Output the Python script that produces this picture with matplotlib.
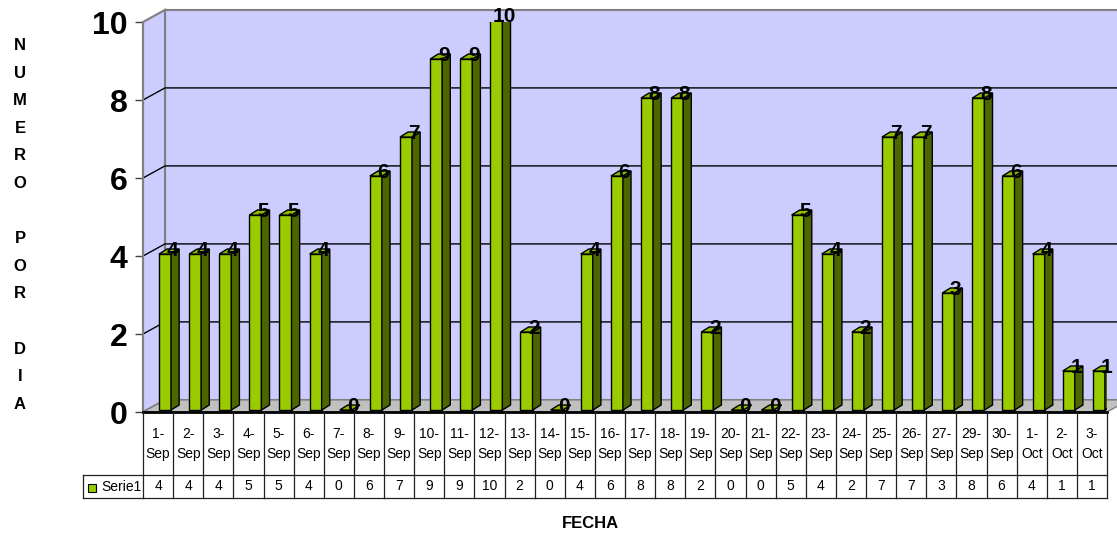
import matplotlib
matplotlib.use("Agg")
import matplotlib.pyplot as plt
from matplotlib.patches import Polygon, Rectangle

plt.rcParams['font.family'] = ['Liberation Sans', 'DejaVu Sans']

# data
fechas = ['1-Sep', '2-Sep', '3-Sep', '4-Sep', '5-Sep', '6-Sep', '7-Sep', '8-Sep',
          '9-Sep', '10-Sep', '11-Sep', '12-Sep', '13-Sep', '14-Sep', '15-Sep', '16-Sep',
          '17-Sep', '18-Sep', '19-Sep', '20-Sep', '21-Sep', '22-Sep', '23-Sep', '24-Sep',
          '25-Sep', '26-Sep', '27-Sep', '29-Sep', '30-Sep', '1-Oct', '2-Oct', '3-Oct']
serie1 = [4, 4, 4, 5, 5, 4, 0, 6, 7, 9, 9, 10, 2, 0, 4, 6,
          8, 8, 2, 0, 0, 5, 4, 2, 7, 7, 3, 8, 6, 4, 1, 1]
yticks = [0, 2, 4, 6, 8, 10]

W, H = 1117, 535
n = len(fechas)


def px_rect(l, t, r, b):
    return [l / W, 1 - b / H, (r - l) / W, (b - t) / H]


fig = plt.figure(figsize=(W / 100, H / 100), dpi=100)
ax = fig.add_axes(px_rect(143, 22, 1107, 412))
ax.set_xlim(-0.5, n - 0.5)
ax.set_ylim(0, 10)
ax.patch.set_visible(False)

# 3d depth of the walls (in data units)
dx, dy = 0.73, 0.31
x0w, x1w = -0.5, n - 0.5

back = Polygon([(x0w + dx, dy), (x1w + dx, dy), (x1w + dx, 10 + dy), (x0w + dx, 10 + dy)],
               fc='#CCCCFF', ec='#808080', lw=1.5, clip_on=False, zorder=0)
left = Polygon([(x0w, 0), (x0w + dx, dy), (x0w + dx, 10 + dy), (x0w, 10)],
               fc='#CCCCFF', ec='#808080', lw=1.5, clip_on=False, zorder=0)
floor = Polygon([(x0w, 0), (x1w, 0), (x1w + dx, dy), (x0w + dx, dy)],
                fc='#C0C0C0', ec='#808080', lw=1, clip_on=False, zorder=0)
for p in (back, left, floor):
    ax.add_patch(p)

for y in yticks[1:-1]:
    ax.plot([x0w, x0w + dx, x1w + dx], [y, y + dy, y + dy], color='black', lw=1,
            clip_on=False, zorder=1)

# bars
w = 0.40
bdx, bdy = 0.27, 0.13
base = 0.05
for i, v in enumerate(serie1):
    xa = i + 0.03
    y1 = base + v
    ax.add_patch(Rectangle((xa, base), w, v, fc='#99CC00', ec='black', lw=1, zorder=3))
    ax.add_patch(Polygon([(xa + w, base), (xa + w + bdx, base + bdy), (xa + w + bdx, y1 + bdy), (xa + w, y1)],
                         fc='#4D6600', ec='black', lw=1, zorder=3))
    ax.add_patch(Polygon([(xa, y1), (xa + w, y1), (xa + w + bdx, y1 + bdy), (xa + bdx, y1 + bdy)],
                         fc='#8CBB00', ec='black', lw=1, zorder=3))
    ax.text(i + 0.48, v + 0.15, str(v), ha='center', va='center', fontsize=15,
            fontweight='bold', zorder=5, clip_on=False)

for s in ('top', 'right'):
    ax.spines[s].set_visible(False)
ax.spines['left'].set_color('#808080')
ax.spines['left'].set_linewidth(1.5)
ax.spines['bottom'].set_color('black')
ax.spines['bottom'].set_linewidth(2)
ax.spines['bottom'].set_zorder(4)
ax.set_xticks([])
ax.set_yticks(yticks)
ax.set_yticklabels([str(t) for t in yticks], fontsize=23, fontweight='bold')
ax.tick_params(axis='y', length=6, width=1, color='#404040', pad=5)

# axis titles
fig.text(20 / W, 1 - 225 / H, "N\nU\nM\nE\nR\nO\n\nP\nO\nR\n\nD\nI\nA",
         ha='center', va='center', fontsize=12, fontweight='bold', linespacing=2.05)
fig.text(590 / W, 1 - 523 / H, "FECHA", ha='center', va='center', fontsize=12,
         fontweight='bold')

# data table
tax = fig.add_axes(px_rect(143, 412, 1107, 498))
tax.set_xlim(-0.5, n - 0.5)
tax.set_ylim(86, 0)
tax.axis('off')
leg_x = -0.5 - 60 / 30.125
lc = '#202020'
for k in range(n + 1):
    tax.plot([k - 0.5, k - 0.5], [0, 86], color=lc, lw=0.9, clip_on=False)
tax.plot([leg_x, n - 0.5], [63, 63], color=lc, lw=0.9, clip_on=False)
tax.plot([leg_x, n - 0.5], [86, 86], color=lc, lw=0.9, clip_on=False)
tax.plot([leg_x, leg_x], [63, 86], color=lc, lw=0.9, clip_on=False)
for i, (f, v) in enumerate(zip(fechas, serie1)):
    d, m = f.split('-')
    tax.text(i, 32, d + '-\n' + m, ha='center', va='center', fontsize=10, linespacing=1.55)
    tax.text(i, 74.5, str(v), ha='center', va='center', fontsize=10)
tax.add_patch(Rectangle((-0.5 - 55 / 30.125, 72), 8 / 30.125, 8, fc='#99CC00', ec='black',
                        lw=0.8, clip_on=False))
tax.text(-0.5 - 42 / 30.125, 75, 'Serie1', ha='left', va='center', fontsize=10)

fig.savefig('out.png', dpi=100)
